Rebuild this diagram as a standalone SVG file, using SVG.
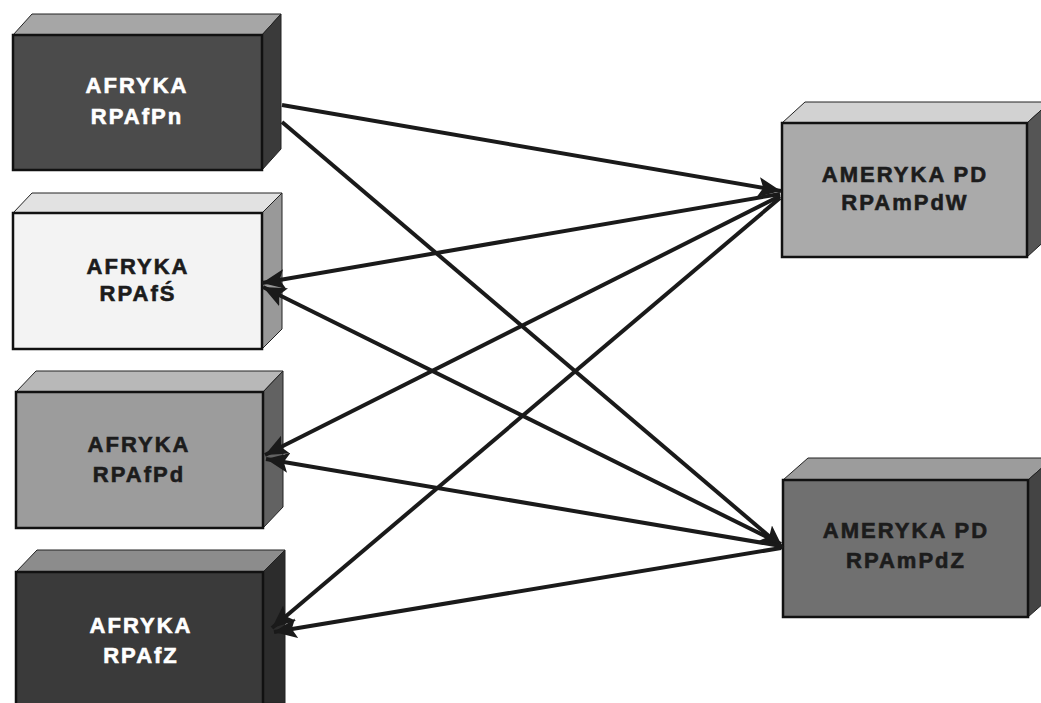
<svg xmlns="http://www.w3.org/2000/svg" width="1041" height="703" viewBox="0 0 1041 703">
<style>
.lbl{font-family:"Liberation Sans",Arial,sans-serif;font-weight:bold;font-size:22px;letter-spacing:2px;text-anchor:middle;stroke-width:0.6px}
.dk{fill:#1c1c1c;stroke:#1c1c1c}
.wt{fill:#ffffff;stroke:#ffffff}
.edge{stroke:#1a1a1a;stroke-width:4;fill:none}
.fr{stroke:#111;stroke-width:2.5}
.tp,.sd{stroke:#222;stroke-width:1}
</style>
<defs>
<marker id="ah" markerUnits="userSpaceOnUse" markerWidth="26" markerHeight="20" refX="23" refY="10" orient="auto">
<path d="M0,0 L23,10 L0,20 L5,10 Z" fill="#1a1a1a"/>
</marker>
</defs>
<rect width="1041" height="703" fill="#ffffff"/>

<g id="n-pn">
<polygon class="tp" points="13,35 32,14 281,14 262,35" fill="#a6a6a6"/>
<polygon class="sd" points="262,35 281,14 281,149 262,170" fill="#3a3a3a"/>
<rect class="fr" x="13" y="35" width="249" height="135" fill="#4b4b4b"/>
<text class="lbl wt" x="137" y="93">AFRYKA</text>
<text class="lbl wt" x="137" y="124">RPAfPn</text>
</g>

<g id="n-s">
<polygon class="tp" points="13,213 32,193 282,193 262,213" fill="#e2e2e2"/>
<polygon class="sd" points="262,213 282,193 282,329 262,349" fill="#999999"/>
<rect class="fr" x="13" y="213" width="249" height="136" fill="#f3f3f3"/>
<text class="lbl dk" x="138" y="274">AFRYKA</text>
<text class="lbl dk" x="138" y="301">RPAfŚ</text>
</g>

<g id="n-pd">
<polygon class="tp" points="16,392 36,371 283,371 263,392" fill="#b8b8b8"/>
<polygon class="sd" points="263,392 283,371 283,507 263,528" fill="#626262"/>
<rect class="fr" x="16" y="392" width="247" height="136" fill="#9c9c9c"/>
<text class="lbl dk" x="139" y="452">AFRYKA</text>
<text class="lbl dk" x="139" y="482">RPAfPd</text>
</g>

<g id="n-z">
<polygon class="tp" points="16,572 37,550 285,550 263,572" fill="#8c8c8c"/>
<polygon class="sd" points="263,572 285,550 285,703 263,703" fill="#2c2c2c"/>
<rect class="fr" x="16" y="572" width="247" height="140" fill="#3a3a3a"/>
<text class="lbl wt" x="141" y="633">AFRYKA</text>
<text class="lbl wt" x="141" y="663">RPAfZ</text>
</g>

<g id="n-amw">
<polygon class="tp" points="782,123 805,102 1050,102 1027,123" fill="#d2d2d2"/>
<polygon class="sd" points="1027,123 1050,102 1050,236 1027,257" fill="#555555"/>
<rect class="fr" x="782" y="123" width="245" height="134" fill="#aaaaaa"/>
<text class="lbl dk" x="905" y="182">AMERYKA PD</text>
<text class="lbl dk" x="905" y="210">RPAmPdW</text>
</g>

<g id="n-amz">
<polygon class="tp" points="783,480 808,458 1053,458 1028,480" fill="#9c9c9c"/>
<polygon class="sd" points="1028,480 1053,458 1053,595 1028,617" fill="#444444"/>
<rect class="fr" x="783" y="480" width="245" height="137" fill="#707070"/>
<text class="lbl dk" x="906" y="538">AMERYKA PD</text>
<text class="lbl dk" x="906" y="568">RPAmPdZ</text>
</g>

<g id="connectors">
<line class="edge" x1="282" y1="105" x2="781" y2="191" marker-end="url(#ah)"/>
<line class="edge" x1="282" y1="122" x2="783" y2="548" marker-end="url(#ah)"/>
<line class="edge" x1="780" y1="194" x2="262" y2="283" marker-end="url(#ah)"/>
<line class="edge" x1="780" y1="196" x2="265" y2="455" marker-end="url(#ah)"/>
<line class="edge" x1="780" y1="198" x2="272" y2="628" marker-end="url(#ah)"/>
<line class="edge" x1="781" y1="544" x2="263" y2="287" marker-end="url(#ah)"/>
<line class="edge" x1="781" y1="546" x2="266" y2="459" marker-end="url(#ah)"/>
<line class="edge" x1="781" y1="548" x2="274" y2="632" marker-end="url(#ah)"/>
</g>
</svg>
